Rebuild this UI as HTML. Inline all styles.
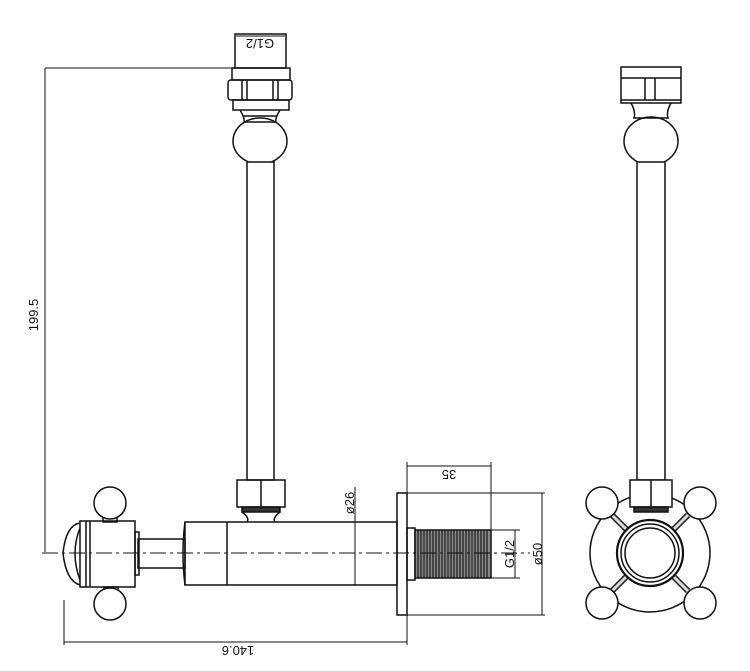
<!DOCTYPE html>
<html><head><meta charset="utf-8"><style>html,body{margin:0;background:#fff}svg{display:block}</style></head><body>
<svg width="750" height="671" viewBox="0 0 750 671" xmlns="http://www.w3.org/2000/svg" fill="none" stroke="#111" stroke-width="1.5" font-family="Liberation Sans, sans-serif">
<!-- LEFT VIEW top fitting -->
<rect x="235" y="34" width="51" height="34"/>
<line x1="236" y1="36" x2="285" y2="36" stroke-width="1"/>
<text x="260" y="47" font-size="13" fill="#111" stroke="none" text-anchor="middle" transform="rotate(180 260 43)">G1/2</text>
<rect x="232" y="68" width="58" height="12"/>
<rect x="228" y="80" width="64" height="20" rx="3"/>
<line x1="242" y1="80" x2="242" y2="100"/><line x1="247" y1="80" x2="247" y2="100"/>
<line x1="273" y1="80" x2="273" y2="100"/><line x1="278" y1="80" x2="278" y2="100"/>
<rect x="233" y="100" width="56" height="10"/>
<path d="M240 110 Q245 118 244 122 L276 122 Q275 118 280 110"/>
<line x1="243" y1="116" x2="277" y2="116"/>
<ellipse cx="260" cy="141" rx="27" ry="23"/>
<rect x="247" y="162" width="27" height="318" fill="#fff"/>
<!-- 199.5 dim -->
<line x1="45" y1="68" x2="232" y2="68" stroke-width="1"/>
<line x1="45" y1="68" x2="45" y2="552" stroke-width="1"/>
<text x="38" y="315" font-size="13" fill="#111" stroke="none" text-anchor="middle" transform="rotate(-90 38 315)">199.5</text>
<!-- lower nut -->
<rect x="237" y="480" width="48" height="27"/>
<line x1="261" y1="480" x2="261" y2="507"/>
<rect x="242" y="507" width="38" height="5" fill="#333"/>
<path d="M242 512 Q250 518 247 522 M280 512 Q272 518 275 522"/>
<!-- body -->
<rect x="185" y="522" width="212" height="63"/>
<path d="M185 522 Q181 553 185 585"/>
<line x1="227" y1="522" x2="227" y2="585"/>
<rect x="138" y="539" width="47" height="29"/>
<rect x="135" y="532" width="4" height="43"/>
<rect x="80" y="521" width="55" height="66"/>
<line x1="86" y1="521" x2="86" y2="587"/><line x1="90" y1="521" x2="90" y2="587"/>
<path d="M80 523 Q66 525 63 553 Q66 581 80 585"/>
<path d="M80 528 Q70 553 80 580"/>
<!-- knobs -->
<rect x="103" y="515" width="14" height="7"/><rect x="104" y="587" width="14" height="7"/>
<circle cx="110" cy="503" r="16" fill="#fff"/>
<circle cx="110" cy="604" r="16" fill="#fff"/>
<!-- flange & thread -->
<rect x="397" y="493" width="10" height="122"/>
<rect x="407" y="528" width="8" height="52"/>
<rect x="415" y="530" width="76" height="48" fill="#888"/>
<g stroke-width="1.3" stroke="#222">
<path d="M418 530v48M421 530v48M424 530v48M427 530v48M430 530v48M433 530v48M436 530v48M439 530v48M442 530v48M445 530v48M448 530v48M451 530v48M454 530v48M457 530v48M460 530v48M463 530v48M466 530v48M469 530v48M472 530v48M475 530v48M478 530v48M481 530v48M484 530v48M487 530v48"/>
</g>
<!-- centerline -->
<line x1="42" y1="553" x2="530" y2="553" stroke-width="1" stroke-dasharray="16 4 3 4"/>
<!-- dims -->
<g stroke-width="1">
<line x1="407" y1="466" x2="491" y2="466"/><line x1="407" y1="462" x2="407" y2="493"/><line x1="491" y1="462" x2="491" y2="530"/>
<line x1="491" y1="530" x2="520" y2="530"/><line x1="491" y1="578" x2="520" y2="578"/><line x1="515" y1="530" x2="515" y2="578"/>
<line x1="407" y1="493" x2="545" y2="493"/><line x1="407" y1="615" x2="545" y2="615"/><line x1="542" y1="493" x2="542" y2="615"/>
<line x1="355" y1="487" x2="355" y2="585"/>
<line x1="64" y1="600" x2="64" y2="645"/><line x1="64" y1="642" x2="407" y2="642"/><line x1="407" y1="615" x2="407" y2="645"/>
</g>
<g fill="#111" stroke="none" font-size="13" text-anchor="middle">
<text x="449" y="480" transform="rotate(180 449 475)">35</text>
<text x="238" y="656" transform="rotate(180 238 651)">140.6</text>
<text x="510" y="558" transform="rotate(-90 510 554)">G1/2</text>
<text x="538" y="558" transform="rotate(-90 538 554)">ø50</text>
<text x="350" y="507" transform="rotate(-90 350 503)">ø26</text>
</g>
<!-- RIGHT VIEW -->
<rect x="621" y="67" width="60" height="36"/>
<line x1="621" y1="78" x2="681" y2="78"/><line x1="621" y1="100" x2="681" y2="100"/>
<line x1="645" y1="78" x2="645" y2="100"/><line x1="655" y1="78" x2="655" y2="100"/>
<path d="M631 103 Q636 112 634 118 L668 118 Q666 112 671 103"/>
<ellipse cx="651" cy="141" rx="27" ry="24"/>
<rect x="637" y="162" width="28" height="318" fill="#fff"/>
<ellipse cx="650" cy="553" rx="60" ry="59"/>
<g stroke-width="6" stroke="#222"><line x1="612" y1="515" x2="630" y2="533"/><line x1="688" y1="515" x2="670" y2="533"/><line x1="612" y1="591" x2="630" y2="573"/><line x1="688" y1="591" x2="670" y2="573"/></g>
<g stroke-width="3" stroke="#ddd"><line x1="612" y1="515" x2="630" y2="533"/><line x1="688" y1="515" x2="670" y2="533"/><line x1="612" y1="591" x2="630" y2="573"/><line x1="688" y1="591" x2="670" y2="573"/></g>
<circle cx="650" cy="553" r="33" fill="#fff" stroke-width="2.2"/>
<circle cx="650" cy="553" r="29"/><circle cx="650" cy="553" r="25"/>
<rect x="630" y="480" width="42" height="27" fill="#fff"/>
<line x1="651" y1="480" x2="651" y2="507"/>
<rect x="634" y="507" width="34" height="5" fill="#333"/>
<circle cx="602" cy="503" r="16" fill="#fff"/><circle cx="700" cy="503" r="16" fill="#fff"/>
<circle cx="602" cy="603" r="16" fill="#fff"/><circle cx="700" cy="603" r="16" fill="#fff"/>
</svg>
</body></html>
